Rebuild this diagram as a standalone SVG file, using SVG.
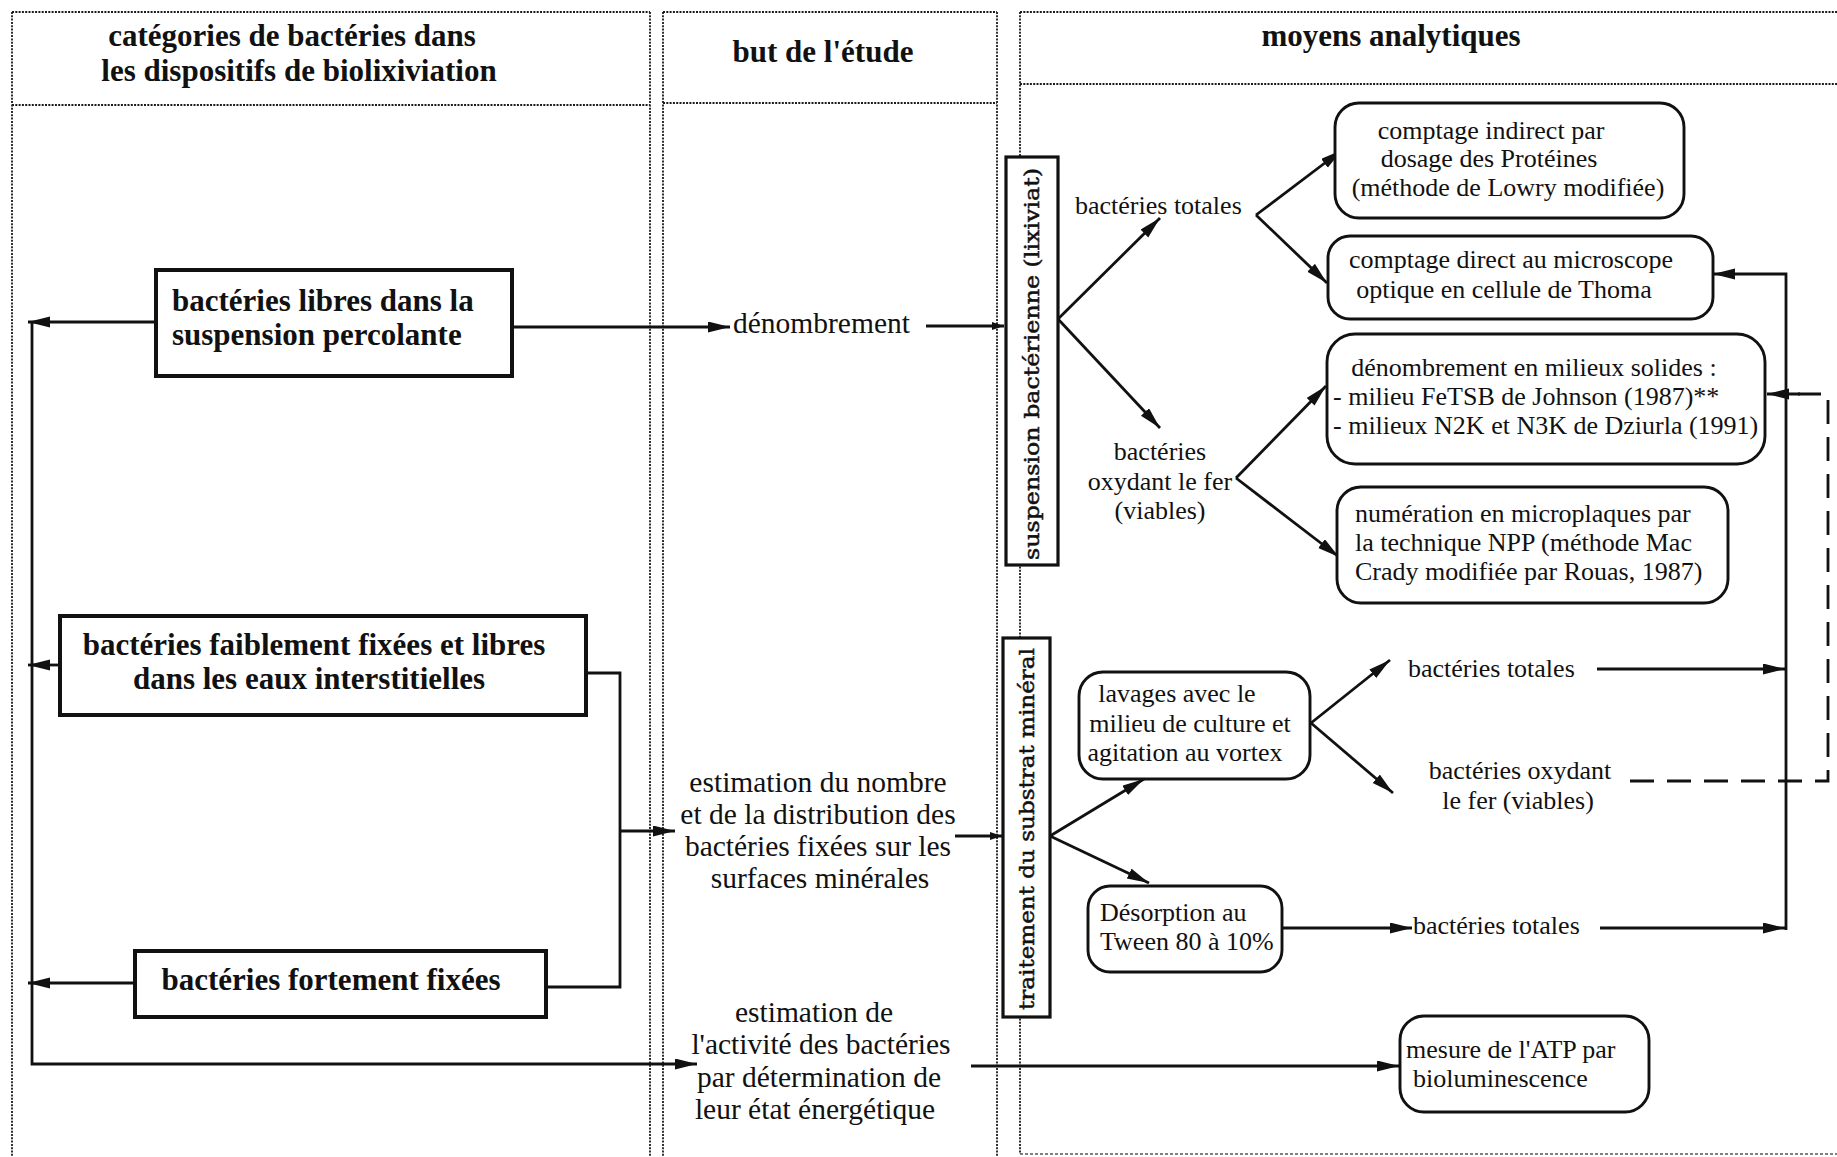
<svg xmlns="http://www.w3.org/2000/svg" width="1837" height="1157" viewBox="0 0 1837 1157">
<defs>
<style>
.dot{fill:none;stroke:#1a1a1a;stroke-width:1.8;stroke-dasharray:2 1.3}
.dotl{fill:none;stroke:#555;stroke-width:1.5;stroke-dasharray:3 2}
.sq{fill:#fff;stroke:#111;stroke-width:4}
.rb{fill:#fff;stroke:#111;stroke-width:2.9}
.vb{fill:#fff;stroke:#111;stroke-width:3.2}
.ln{fill:none;stroke:#111;stroke-width:2.8}
.dash{fill:none;stroke:#111;stroke-width:2.8;stroke-dasharray:24 13}
text{font-family:"Liberation Serif","Times New Roman",serif;fill:#111}
.h{font-size:31px;font-weight:bold}
.b{font-size:31px;font-weight:bold}
.m{font-size:29.5px}
.r{font-size:26px}
.v{font-family:"DejaVu Serif",serif;font-size:21px;stroke:#111;stroke-width:0.5}
.c{text-anchor:middle}
</style>
<marker id="ah" markerUnits="userSpaceOnUse" markerWidth="24" markerHeight="12" refX="22" refY="5.5" orient="auto">
<path d="M0,0 L22,5.5 L0,11 z" fill="#111"/>
</marker>
<marker id="as" markerUnits="userSpaceOnUse" markerWidth="14" markerHeight="10" refX="12" refY="4" orient="auto">
<path d="M0,0 L12,4 L0,8 z" fill="#111"/>
</marker>
</defs>
<rect width="1837" height="1157" fill="#fff"/>

<g id="columns">
<path class="dot" d="M12,12 H650 M12,12 V1157 M650,12 V1157 M12,105 H650"/>
<path class="dot" d="M663,12 H997 M663,12 V1157 M997,12 V1157 M663,103 H997"/>
<path class="dot" d="M1020,12 H1837 M1020,12 V1154 M1020,84 H1837"/>
<path class="dotl" d="M1020,1154 H1837"/>
<text class="h c" x="292" y="46">catégories de bactéries dans</text>
<text class="h c" x="299" y="81">les dispositifs de biolixiviation</text>
<text class="h c" x="823" y="62">but de l'étude</text>
<text class="h c" x="1391" y="46">moyens analytiques</text>
</g>

<g id="connectors">
<path class="ln" d="M156,322 H28" marker-end="url(#ah)"/>
<path class="ln" d="M60,665 H28" marker-end="url(#ah)"/>
<path class="ln" d="M135,983 H28" marker-end="url(#ah)"/>
<path class="ln" d="M32,322 V1064 H697" marker-end="url(#ah)"/>
<path class="ln" d="M512,327 H730" marker-end="url(#ah)"/>
<path class="ln" d="M926,326 H1004" marker-end="url(#as)"/>
<path class="ln" d="M586,673 H620 V987 H546"/>
<path class="ln" d="M620,831 H675" marker-end="url(#ah)"/>
<path class="ln" d="M955,836 H1002" marker-end="url(#as)"/>
<path class="ln" d="M1058,319 L1160,218" marker-end="url(#ah)"/>
<path class="ln" d="M1058,319 L1160,428" marker-end="url(#ah)"/>
<path class="ln" d="M1256,215 L1342,150" marker-end="url(#ah)"/>
<path class="ln" d="M1256,215 L1327,283" marker-end="url(#ah)"/>
<path class="ln" d="M1236,478 L1326,386" marker-end="url(#ah)"/>
<path class="ln" d="M1236,478 L1339,557" marker-end="url(#ah)"/>
<path class="ln" d="M1050,836 L1144,779" marker-end="url(#ah)"/>
<path class="ln" d="M1050,836 L1149,883" marker-end="url(#ah)"/>
<path class="ln" d="M1311,723 L1390,660" marker-end="url(#ah)"/>
<path class="ln" d="M1311,723 L1393,793" marker-end="url(#ah)"/>
<path class="ln" d="M1597,669 H1785" marker-end="url(#ah)"/>
<path class="ln" d="M1283,928 H1412" marker-end="url(#ah)"/>
<path class="ln" d="M1600,928 H1785" marker-end="url(#ah)"/>
<path class="ln" d="M1786,930 V274 H1713" marker-end="url(#ah)"/>
<path class="dash" d="M1630,781 H1828 V394 H1798"/>
<path class="ln" d="M1800,394 H1767" marker-end="url(#ah)"/>
<path class="ln" d="M971,1066 H1399" marker-end="url(#ah)"/>
</g>

<g id="n-libres">
<rect class="sq" x="156" y="270" width="356" height="106"/>
<text class="b" x="172" y="311">bactéries libres dans la</text>
<text class="b" x="172" y="345">suspension percolante</text>
</g>
<g id="n-faiblement">
<rect class="sq" x="60" y="616" width="526" height="99"/>
<text class="b c" x="314" y="655">bactéries faiblement fixées et libres</text>
<text class="b c" x="309" y="689">dans les eaux interstitielles</text>
</g>
<g id="n-fortement">
<rect class="sq" x="135" y="951" width="411" height="66"/>
<text class="b c" x="331" y="990">bactéries fortement fixées</text>
</g>

<g id="n-denombrement">
<text class="m" x="733" y="333">dénombrement</text>
</g>
<g id="n-estimation-nombre">
<text class="m c" x="818" y="792">estimation du nombre</text>
<text class="m c" x="818" y="824">et de la distribution des</text>
<text class="m c" x="818" y="856">bactéries fixées sur les</text>
<text class="m c" x="820" y="888">surfaces minérales</text>
</g>
<g id="n-estimation-activite">
<text class="m c" x="814" y="1022">estimation de</text>
<text class="m c" x="821" y="1054">l'activité des bactéries</text>
<text class="m c" x="819" y="1087">par détermination de</text>
<text class="m c" x="815" y="1119">leur état énergétique</text>
</g>

<g id="n-suspension">
<rect class="vb" x="1006" y="157" width="52" height="408"/>
<text class="v c" transform="translate(1039,364) rotate(-90)" textLength="392" lengthAdjust="spacingAndGlyphs">suspension bactérienne (lixiviat)</text>
</g>
<g id="n-traitement">
<rect class="vb" x="1003" y="638" width="47" height="379"/>
<text class="v c" transform="translate(1034,829) rotate(-90)" textLength="362" lengthAdjust="spacingAndGlyphs">traitement du substrat minéral</text>
</g>

<g id="n-bt1"><text class="r" x="1075" y="214">bactéries totales</text></g>
<g id="n-box1"><text class="r c" x="1160" y="460">bactéries</text><text class="r c" x="1160" y="490">oxydant le fer</text><text class="r c" x="1160" y="519">(viables)</text></g>

<g id="n-comptage-indirect">
<rect class="rb" x="1335" y="103" width="349" height="115" rx="24"/>
<text class="r c" x="1491" y="139">comptage indirect par</text>
<text class="r c" x="1489" y="167">dosage des Protéines</text>
<text class="r c" x="1508" y="196">(méthode de Lowry modifiée)</text>
</g>
<g id="n-comptage-direct">
<rect class="rb" x="1328" y="236" width="385" height="83" rx="22"/>
<text class="r c" x="1511" y="268">comptage direct au microscope</text>
<text class="r c" x="1504" y="298">optique en cellule de Thoma</text>
</g>
<g id="n-milieux">
<rect class="rb" x="1327" y="334" width="438" height="130" rx="28"/>
<text class="r c" x="1534" y="376">dénombrement en milieux solides :</text>
<text class="r" x="1333" y="405">- milieu FeTSB de Johnson (1987)**</text>
<text class="r" x="1333" y="434">- milieux N2K et N3K de Dziurla (1991)</text>
</g>
<g id="n-numeration">
<rect class="rb" x="1337" y="487" width="391" height="116" rx="24"/>
<text class="r" x="1355" y="522">numération en microplaques par</text>
<text class="r" x="1355" y="551">la technique NPP (méthode Mac</text>
<text class="r" x="1355" y="580">Crady modifiée par Rouas, 1987)</text>
</g>
<g id="n-lavages">
<rect class="rb" x="1079" y="672" width="231" height="107" rx="24"/>
<text class="r c" x="1177" y="702">lavages avec le</text>
<text class="r c" x="1190" y="732">milieu de culture et</text>
<text class="r c" x="1185" y="761">agitation au vortex</text>
</g>
<g id="n-desorption">
<rect class="rb" x="1088" y="886" width="194" height="86" rx="22"/>
<text class="r" x="1100" y="921">Désorption au</text>
<text class="r" x="1100" y="950">Tween 80 à 10%</text>
</g>
<g id="n-bt2"><text class="r" x="1408" y="677">bactéries totales</text></g>
<g id="n-box2"><text class="r c" x="1520" y="779">bactéries oxydant</text><text class="r c" x="1518" y="809">le fer (viables)</text></g>
<g id="n-bt3"><text class="r" x="1413" y="934">bactéries totales</text></g>
<g id="n-atp">
<rect class="rb" x="1400" y="1016" width="249" height="96" rx="24"/>
<text class="r" x="1406" y="1058">mesure de l'ATP par</text>
<text class="r" x="1413" y="1087">bioluminescence</text>
</g>
</svg>
